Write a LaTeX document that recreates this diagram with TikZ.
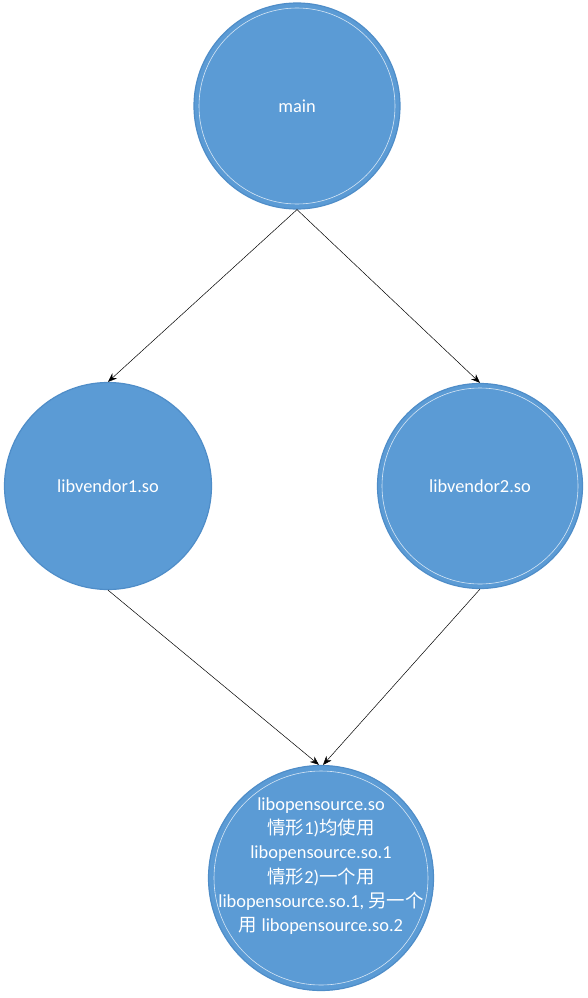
\documentclass[tikz,border=0pt]{standalone}
\usepackage{fontspec}
\setmainfont{Carlito}
\newfontfamily\cjk{Noto Sans CJK SC}
\usetikzlibrary{arrows.meta}
\definecolor{libblue}{HTML}{5B9BD5}
\definecolor{libedge}{HTML}{4F8DC8}
\tikzset{
  lib/.style={circle, fill=libblue, draw=libedge, line width=1.2pt, text=white, inner sep=0pt, align=center, font=\fontsize{18.4}{24.3}\selectfont},
  ring/.style={draw=white, opacity=0.75, line width=0.6pt},
  link/.style={draw=black, line width=0.5pt, -{Stealth[length=9pt,width=7pt]}}
}
\begin{document}
\begin{tikzpicture}[x=1pt, y=-1pt]
\useasboundingbox (0,0) rectangle (588,998);
\node (main) at (297,106) [lib, minimum size=206pt] {main};
\node (vendor1) at (108,486) [lib, minimum size=207pt] {libvendor1.so};
\node (vendor2) at (480,486) [lib, minimum size=205pt] {libvendor2.so};
\node (opensrc) at (321,878) [lib, minimum size=225pt] {};
\draw [ring] (main.center) circle [radius=98pt];
\draw [ring] (vendor2.center) circle [radius=98pt];
\draw [ring] (opensrc.center) circle [radius=107pt];
\node (opentext) at ([yshift=12pt]opensrc.center) [align=center, text=white, font=\fontsize{18.4}{24.3}\selectfont] {libopensource.so\\{\cjk 情形}1){\cjk 均使用}\\libopensource.so.1\\{\cjk 情形}2){\cjk 一个用}\\libopensource.so.1, {\cjk 另一个}\\{\cjk 用} libopensource.so.2};
\draw [link] (main.south) -- (vendor1.north);
\draw [link] (main.south) -- (vendor2.north);
\draw [link] (vendor1.south) -- ([xshift=-2pt]opensrc.north);
\draw [link] (vendor2.south) -- ([xshift=2pt]opensrc.north);
\end{tikzpicture}
\end{document}
